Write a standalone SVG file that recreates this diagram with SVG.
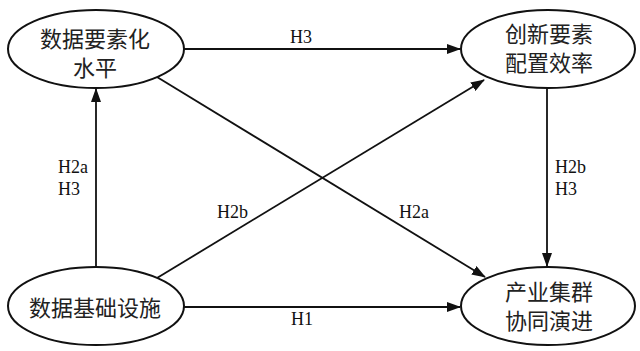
<svg xmlns="http://www.w3.org/2000/svg" width="640" height="351" viewBox="0 0 640 351">
<style>
.node ellipse{fill:#fff;stroke:#111;stroke-width:2}
.node text{font-family:"Noto Sans CJK SC","Noto Sans",sans-serif;font-size:22px;fill:#222;text-anchor:middle}
.edge{stroke:#111;stroke-width:1.8;fill:none;marker-end:url(#arr)}
.lbl{font-family:"Liberation Serif",serif;font-size:18px;fill:#111}
</style>
<defs>
<marker id="arr" markerUnits="userSpaceOnUse" markerWidth="14" markerHeight="10" refX="13" refY="5" orient="auto">
<path d="M0,0 L14,5 L0,10 Z" fill="#111"/>
</marker>
</defs>
<rect width="640" height="351" fill="#fff"/>
<g id="connectors">
<line class="edge" x1="184" y1="49" x2="460" y2="49"/>
<line class="edge" x1="184" y1="307" x2="460" y2="307"/>
<line class="edge" x1="96" y1="267" x2="96" y2="89"/>
<line class="edge" x1="547" y1="88" x2="547" y2="266"/>
<line class="edge" x1="157" y1="77" x2="485" y2="277"/>
<line class="edge" x1="157" y1="278" x2="484" y2="80"/>
<text class="lbl" x="290" y="43">H3</text>
<text class="lbl" x="291" y="325">H1</text>
<text class="lbl" x="58" y="173">H2a</text>
<text class="lbl" x="58" y="195">H3</text>
<text class="lbl" x="555" y="173">H2b</text>
<text class="lbl" x="555" y="195">H3</text>
<text class="lbl" x="217" y="218">H2b</text>
<text class="lbl" x="399" y="218">H2a</text>
</g>
<g id="n1" class="node">
<ellipse cx="96" cy="49" rx="88" ry="39"/>
<text x="95" y="47">数据要素化</text>
<text x="95" y="76">水平</text>
</g>
<g id="n2" class="node">
<ellipse cx="548" cy="49" rx="87" ry="39"/>
<text x="549" y="42">创新要素</text>
<text x="549" y="71">配置效率</text>
</g>
<g id="n3" class="node">
<ellipse cx="96" cy="306" rx="88" ry="39"/>
<text x="95" y="316">数据基础设施</text>
</g>
<g id="n4" class="node">
<ellipse cx="548" cy="306" rx="87" ry="39"/>
<text x="549" y="300">产业集群</text>
<text x="549" y="329">协同演进</text>
</g>
</svg>
